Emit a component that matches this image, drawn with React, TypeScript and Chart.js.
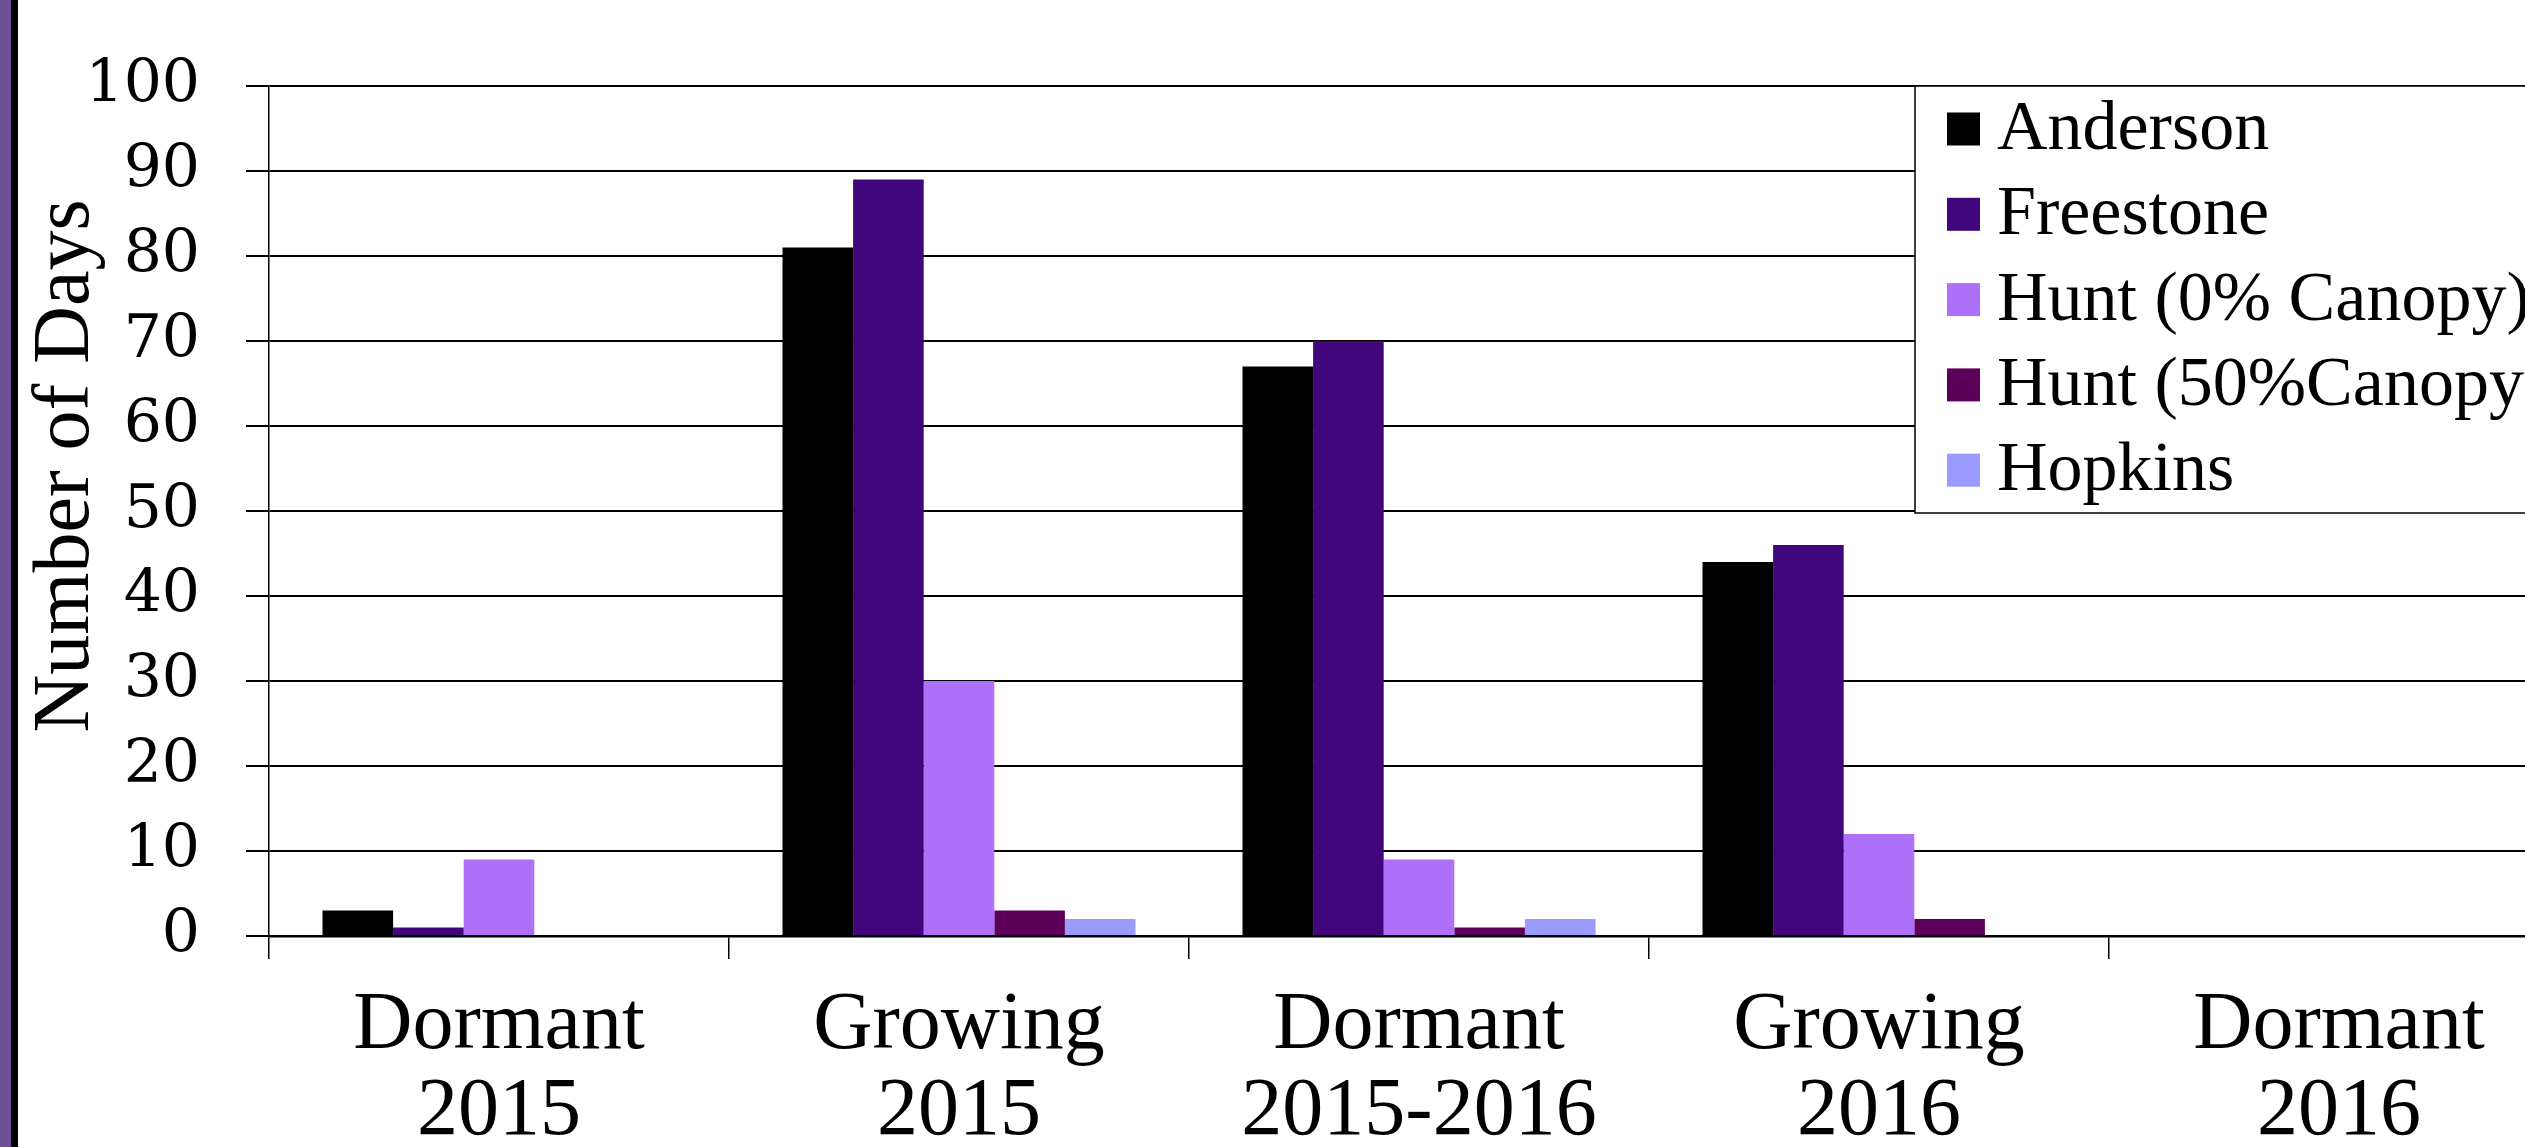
import React, { useEffect, useRef } from "react";
import { Chart, registerables } from "chart.js";

Chart.register(...registerables);

const categories: string[][] = [
  ["Dormant", "2015"],
  ["Growing", "2015"],
  ["Dormant", "2015-2016"],
  ["Growing", "2016"],
  ["Dormant", "2016"],
];
const seriesNames = ["Anderson", "Freestone", "Hunt (0% Canopy)", "Hunt (50%Canopy)", "Hopkins"];
const anderson = [3, 81, 67, 44, 0];
const freestone = [1, 89, 70, 46, 0];
const hunt0 = [9, 30, 9, 12, 0];
const hunt50 = [0, 3, 1, 2, 0];
const hopkins = [0, 2, 2, 0, 0];
const seriesColors = ["#000000", "#42067C", "#AE70F8", "#5D0059", "#9B9BFF"];
const yMin = 0;
const yMax = 100;
const yStep = 10;
const axisTitle = "Number of Days";

const FONT = "'Liberation Serif', 'Times New Roman', serif";
const TICK_FONT = "'DejaVu Serif', serif";

const overlayPlugin = {
  id: "overlay",
  afterDraw(chart: any) {
    const ctx = chart.ctx as CanvasRenderingContext2D;
    const area = chart.chartArea;
    ctx.save();
    // legend box
    const lx = 1915;
    const ly = area.top;
    const lb = 513;
    ctx.fillStyle = "#ffffff";
    ctx.fillRect(lx, ly, chart.width - lx + 20, lb - ly);
    ctx.strokeStyle = "#000000";
    ctx.lineWidth = 1.5;
    ctx.strokeRect(lx, ly, chart.width - lx + 20, lb - ly);
    ctx.font = `70px ${FONT}`;
    ctx.textAlign = "left";
    ctx.textBaseline = "alphabetic";
    chart.data.datasets.forEach((ds: any, i: number) => {
      const cy = 129 + i * 85.3;
      ctx.fillStyle = ds.backgroundColor;
      ctx.fillRect(1947, cy - 16.5, 33, 33);
      ctx.fillStyle = "#000000";
      ctx.fillText(ds.label, 1997, cy + 20);
    });
    // y axis title
    ctx.translate(88, 466);
    ctx.rotate(-Math.PI / 2);
    ctx.font = `80px ${FONT}`;
    ctx.textAlign = "center";
    ctx.fillStyle = "#000000";
    ctx.fillText(axisTitle, 0, 0);
    ctx.restore();
  },
};

export default function App() {
  const ref = useRef<HTMLCanvasElement | null>(null);

  useEffect(() => {
    if (!ref.current) return;
    const seriesData = [anderson, freestone, hunt0, hunt50, hopkins];
    const chart = new Chart(ref.current, {
      type: "bar",
      data: {
        labels: categories,
        datasets: seriesNames.map((name, i) => ({
          label: name,
          data: seriesData[i],
          backgroundColor: seriesColors[i],
          borderWidth: 0,
          categoryPercentage: 0.7674,
          barPercentage: 1,
        })),
      },
      options: {
        responsive: false,
        animation: false,
        devicePixelRatio: 1,
        layout: { padding: { top: 86, right: 11, left: 0, bottom: 0 } },
        plugins: {
          legend: { display: false },
          title: { display: false },
          tooltip: { enabled: false },
        },
        scales: {
          x: {
            ticks: {
              color: "#000",
              font: { family: FONT, size: 82, lineHeight: 1.05 },
              padding: 24,
              autoSkip: false,
              maxRotation: 0,
              minRotation: 0,
            },
            grid: {
              drawOnChartArea: false,
              drawTicks: true,
              tickLength: 23,
              color: "#000",
              lineWidth: 1.5,
              offset: true,
            },
            border: { display: true, color: "#000", width: 2.5 },
            afterFit: (s: any) => {
              s.height = 211;
            },
          },
          y: {
            min: yMin,
            max: yMax,
            ticks: {
              stepSize: yStep,
              autoSkip: false,
              padding: 46,
              color: "#000",
              font: { family: TICK_FONT, size: 60 },
            },
            grid: { color: "#000", lineWidth: 2, tickLength: 23, drawTicks: true },
            border: { display: true, color: "#000", width: 1.5 },
            afterFit: (s: any) => {
              s.width = 269;
            },
          },
        },
      },
      plugins: [overlayPlugin],
    });
    return () => chart.destroy();
  }, []);

  return (
    <div
      style={{
        position: "fixed",
        left: 0,
        top: 0,
        width: 2525,
        height: 1147,
        overflow: "hidden",
        background: "#ffffff",
      }}
    >
      <canvas
        ref={ref}
        width={2580}
        height={1147}
        style={{ position: "absolute", left: 0, top: 0, width: 2580, height: 1147 }}
      />
      <div style={{ position: "absolute", left: 0, top: 0, width: 11, height: 1147, background: "#6E5096" }} />
      <div style={{ position: "absolute", left: 11, top: 0, width: 7, height: 1147, background: "#000000" }} />
    </div>
  );
}
